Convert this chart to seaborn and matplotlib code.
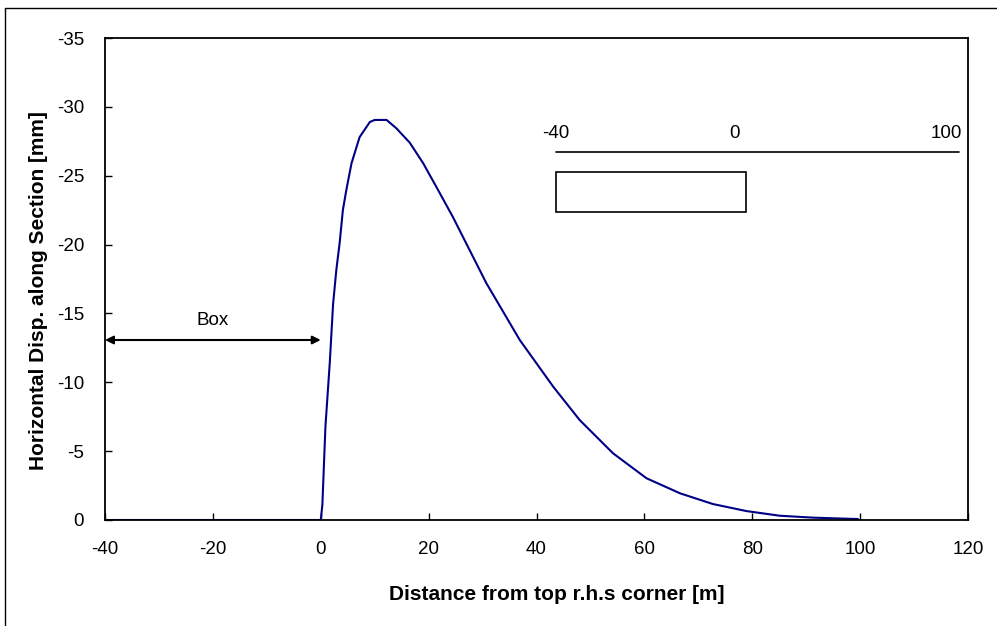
import matplotlib
matplotlib.use("Agg")
import matplotlib.pyplot as plt
from matplotlib.lines import Line2D
import numpy as np
import pandas as pd
import seaborn as sns

# Horizontal displacement profile along the section
distance_m = [-40, -20, 0, 0.3, 0.87, 1.67, 2.29, 2.9, 3.5, 4.1, 4.76, 5.7, 7.2,
              9.1, 10.0, 12.2, 14.0, 16.5, 19.0, 21.7, 24.5, 30.7, 36.9, 43.1,
              48.0, 54.2, 60.4, 66.6, 72.7, 78.9, 85.1, 91.3, 99.6]
disp_mm = [0, 0, 0, -1.1, -6.8, -11.4, -15.7, -18.2, -20.1, -22.5, -24.0, -25.9,
           -27.8, -28.9, -29.05, -29.05, -28.45, -27.4, -25.9, -24.0, -22.0,
           -17.2, -13.07, -9.68, -7.26, -4.84, -3.03, -1.94, -1.16, -0.65,
           -0.31, -0.17, -0.07]

x_ticks = [-40, -20, 0, 20, 40, 60, 80, 100, 120]
y_ticks = [0, -5, -10, -15, -20, -25, -30, -35]

# Key sketch: section scale and box outline (data units)
key_labels = ["-40", "0", "100"]
key_label_x = [43.6, 76.8, 116.0]
key_line_x = [43.6, 118.4]
key_line_y = -26.7
key_box = [43.6, -25.3, 78.9, -22.4]  # x0, y_top, x1, y_bottom
box_arrow = [-40, 0, -13.07]           # x_start, x_end, y

sns.set_theme(style="white")
plt.rcParams["font.family"] = ["Liberation Sans", "DejaVu Sans"]
plt.rcParams["text.color"] = "black"
plt.rcParams["axes.labelcolor"] = "black"

fig = plt.figure(figsize=(9.97, 6.26), dpi=100)
ax = fig.add_axes([105 / 997, 1 - 520 / 626, (968 - 105) / 997, (520 - 38) / 626])

df = pd.DataFrame({"distance": distance_m, "disp": disp_mm})
sns.lineplot(data=df, x="distance", y="disp", ax=ax, color="#000085",
             linewidth=1.5, sort=False, estimator=None)

ax.set_xlim(-40, 120)
ax.set_ylim(0, -35)
ax.set_xticks(x_ticks)
ax.set_yticks(y_ticks)
ax.set_xticklabels([str(v) for v in x_ticks])
ax.set_yticklabels([str(v) for v in y_ticks])
ax.tick_params(direction="in", length=5, width=1, colors="black",
               labelsize=13.5, bottom=True, left=True)
ax.tick_params(axis="x", pad=15)
ax.tick_params(axis="y", pad=15)
for s in ax.spines.values():
    s.set_color("black")
    s.set_linewidth(1.3)

ax.set_xlabel("Distance from top r.h.s corner [m]", fontsize=15,
              fontweight="bold")
ax.set_ylabel("Horizontal Disp. along Section [mm]", fontsize=15,
              fontweight="bold", labelpad=6)
ax.xaxis.set_label_coords(0.524, -0.135)
ax.yaxis.label.set_y(0.477)

# Box extent arrow
ax.annotate("", xy=(box_arrow[0], box_arrow[2]), xytext=(box_arrow[1], box_arrow[2]),
            arrowprops=dict(arrowstyle="<|-|>", color="black", lw=1.5,
                            mutation_scale=12, shrinkA=0, shrinkB=0))
ax.text((box_arrow[0] + box_arrow[1]) / 2, box_arrow[2] - 1.4, "Box",
        ha="center", va="center", fontsize=13.5)

# Key sketch
ax.plot(key_line_x, [key_line_y, key_line_y], color="black", lw=1.2)
ax.add_patch(plt.Rectangle((key_box[0], key_box[1]), key_box[2] - key_box[0],
                           key_box[3] - key_box[1], fill=False,
                           edgecolor="black", lw=1.2))
for lbl, xv in zip(key_labels, key_label_x):
    ax.text(xv, key_line_y - 1.4, lbl, ha="center", va="center", fontsize=13.5)

# Outer frame along the left and top edges
fig.add_artist(Line2D([5 / 997, 5 / 997], [0, 1 - 8 / 626], color="black",
                      lw=1.0, transform=fig.transFigure))
fig.add_artist(Line2D([5 / 997, 1], [1 - 8 / 626, 1 - 8 / 626], color="black",
                      lw=1.0, transform=fig.transFigure))

fig.savefig("out.png", dpi=100)
